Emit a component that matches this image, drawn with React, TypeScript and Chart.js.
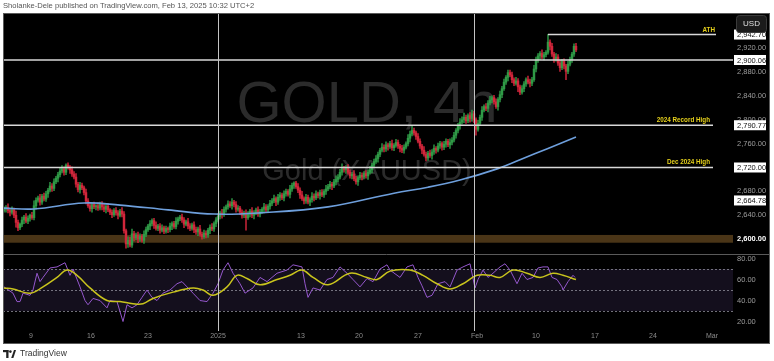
import React, { useEffect, useRef } from 'react';
import { Chart, registerables } from 'chart.js';

Chart.register(...registerables);

const FONT = '"Liberation Sans", Arial, sans-serif';

// ---- price (4h candles), bar index 0..286 ----
const firstOpen = 2648;
const closes = [
  2650, 2653, 2648, 2645, 2649, 2640, 2628, 2619, 2625, 2632, 2637, 2630, 2635, 2640, 2636, 2656, 2665,
  2669, 2662, 2672, 2667, 2676, 2682, 2689, 2685, 2696, 2702, 2708, 2714, 2718, 2712, 2724, 2720, 2716, 2709,
  2704, 2692, 2683, 2690, 2686, 2678, 2664, 2656, 2651, 2658, 2654, 2656, 2652, 2659, 2654, 2650, 2655,
  2649, 2645, 2641, 2648, 2644, 2640, 2647, 2642, 2614, 2592, 2598, 2590, 2609, 2602, 2607, 2600, 2605, 2598, 2608,
  2616, 2622, 2626, 2631, 2623, 2618, 2622, 2615, 2619, 2613, 2618, 2616, 2622, 2626, 2621, 2630, 2634, 2637, 2632,
  2625, 2629, 2622, 2618, 2624, 2616, 2612, 2617, 2608, 2604, 2610, 2607, 2615, 2620, 2617, 2626, 2632,
  2638, 2644, 2641, 2650, 2654, 2659, 2656, 2662, 2658, 2650, 2652, 2645, 2640, 2644, 2636,
  2642, 2647, 2640, 2644, 2649, 2642, 2646, 2650, 2654, 2649, 2655, 2660,
  2664, 2668, 2662, 2670, 2674, 2669, 2676, 2680, 2675, 2684, 2690, 2694,
  2688, 2682, 2674, 2668, 2664, 2670, 2662, 2666, 2672, 2669, 2676, 2673, 2678, 2674, 2680, 2684,
  2688, 2692, 2689, 2696, 2700, 2704, 2712, 2718, 2716, 2720, 2712, 2706, 2709, 2701, 2696, 2703, 2707,
  2704, 2710, 2706, 2712, 2716, 2724, 2730, 2735, 2742, 2749,
  2754, 2751, 2758, 2755, 2760, 2753, 2757, 2762, 2756, 2752, 2749, 2754, 2760,
  2769, 2776, 2782, 2778, 2772, 2764, 2756, 2749, 2742, 2736, 2744, 2740,
  2746, 2752, 2749, 2756, 2760, 2754, 2759, 2764, 2758, 2762, 2766, 2774, 2782, 2790, 2796,
  2800, 2804, 2798, 2807, 2802, 2810, 2800, 2784, 2794, 2804, 2816, 2822, 2819, 2828, 2833, 2837,
  2830, 2822, 2834, 2842, 2852, 2863, 2871, 2879, 2875, 2867, 2861, 2865, 2855, 2846, 2852,
  2860, 2867, 2863, 2861, 2867, 2885, 2900, 2907, 2911, 2905, 2909, 2913, 2930,
  2923, 2910, 2901, 2905, 2895, 2887, 2898, 2890, 2881, 2893, 2901, 2910, 2923, 2917,
];
const wickUp = [
  4, 3, 6, 2, 5, 3, 7, 4, 2, 5, 3, 6, 4, 2, 5, 8, 4, 3, 6, 3,
  5, 4, 3, 6, 4, 5, 3, 4, 6, 5, 3, 2, 4, 3, 5, 4, 6, 3, 5, 4,
  3, 6, 4, 5, 3, 4, 2, 5, 3, 4, 6, 3, 5, 2, 4, 3, 5, 4, 3, 6,
  4, 3, 6, 5, 8, 4, 3, 5, 4, 3, 6, 4, 3, 5, 3, 4, 6, 3, 4, 5,
  3, 4, 2, 5, 3, 4, 6, 3, 3, 5, 4, 3, 6, 4, 3, 5, 4, 3, 6, 4,
  5, 4, 3, 4, 6, 3, 4, 5, 3, 6, 4, 3, 5, 4, 6, 3, 5, 4, 3, 4,
  3, 5, 4, 3, 6, 4, 3, 5, 4, 3, 6, 4, 3, 5, 4, 6, 3, 5, 4, 3,
  5, 4, 3, 6, 4, 2, 3, 5, 4, 6, 3, 5, 4, 3, 6, 4, 5, 3, 4, 5,
  3, 6, 4, 5, 3, 4, 6, 4, 5, 8, 4, 3, 5, 4, 3, 6, 4, 3, 5, 4,
  3, 5, 4, 6, 3, 4, 5, 4, 3, 6, 4, 5, 3, 4, 6, 3, 5, 4, 3, 5,
  4, 3, 6, 5, 8, 4, 3, 5, 4, 3, 6, 4, 3, 5, 4, 6, 3, 5, 4, 3,
  5, 4, 3, 6, 4, 5, 3, 4, 6, 5, 7, 4, 3, 5, 6, 4, 3, 5, 4, 6,
  3, 5, 4, 6, 3, 4, 5, 3, 6, 4, 5, 3, 4, 4, 5, 3, 6, 4, 3, 5,
  4, 3, 6, 5, 4, 6, 5, 4, 3, 6, 4, 3, 13, 4, 5, 3, 6, 4, 5, 3,
  4, 3, 5, 4, 3, 4, 5,
];
const wickDn = [
  3, 5, 4, 6, 3, 4, 8, 5, 3, 4, 6, 3, 4, 5, 3, 4, 6, 3, 5, 4,
  3, 4, 6, 3, 5, 4, 3, 6, 4, 3, 5, 4, 3, 6, 4, 3, 5, 4, 6, 3,
  4, 5, 3, 4, 6, 3, 5, 4, 3, 5, 4, 6, 3, 4, 5, 3, 4, 6, 3, 5,
  4, 7, 6, 3, 4, 5, 3, 6, 4, 3, 5, 4, 3, 6, 4, 5, 3, 4, 5, 3,
  4, 3, 5, 4, 6, 3, 4, 5, 3, 4, 6, 3, 5, 4, 3, 5, 4, 6, 3, 4,
  3, 5, 4, 6, 3, 4, 5, 3, 4, 6, 3, 5, 4, 3, 6, 4, 5, 3, 4, 5,
  4, 21, 3, 5, 4, 6, 3, 4, 5, 3, 6, 4, 3, 5, 4, 3, 6, 4, 5, 3,
  5, 4, 3, 6, 4, 5, 3, 4, 6, 3, 5, 4, 3, 6, 4, 5, 3, 4, 6, 3,
  4, 5, 3, 4, 6, 3, 5, 4, 3, 5, 4, 6, 3, 4, 5, 3, 4, 6, 3, 5,
  3, 4, 6, 3, 5, 4, 3, 6, 4, 3, 5, 4, 6, 3, 4, 5, 3, 4, 6, 4,
  5, 3, 4, 6, 3, 4, 5, 3, 4, 6, 3, 5, 4, 3, 6, 4, 5, 3, 4, 5,
  4, 5, 3, 6, 4, 3, 5, 4, 6, 3, 5, 4, 3, 6, 4, 5, 10, 3, 4, 5,
  3, 4, 6, 3, 5, 4, 3, 6, 4, 5, 3, 4, 6, 3, 5, 4, 3, 8, 4, 3,
  5, 4, 3, 6, 4, 3, 5, 4, 6, 3, 5, 4, 3, 6, 4, 5, 3, 4, 6, 3,
  5, 14, 4, 3, 5, 4, 3,
];

// ---- moving average (blue) ----
const maIdx = [0, 15, 40, 58, 82, 105, 128, 162, 195, 212, 228, 245, 258, 272, 286];
const maVal = [2652, 2650.5, 2660.5, 2657, 2649, 2642, 2644, 2654, 2677, 2687, 2699, 2716, 2733, 2752, 2771];

// ---- RSI (purple) and its MA (yellow) ----
const rsiIdx = [0, 4.5, 6.5, 8, 9.5, 13, 14.5, 16.5, 18, 19.5, 23, 26.5, 30.5, 33, 34.5, 38, 40.5, 42, 44.5, 48,
  51.5, 53, 56.5, 59.5, 61.5, 64, 66.5, 69, 71.5, 74, 76.5, 79.5, 83, 86.5, 89, 91.5, 94.5, 98, 101.5, 104.5,
  107, 109.5, 112, 114.5, 118, 120.5, 124.5, 128, 131.5, 136.5, 141.5, 144.5, 149, 150.5, 152, 154.5, 158, 161.5,
  164.5, 168, 171.5, 174.5, 178, 181.5, 184.5, 188, 191.5, 193, 198, 201.5, 204.5, 207, 209, 211.5, 214, 217,
  220.5, 223, 226.5, 229.5, 233, 235.5, 237, 239.5, 242, 244.5, 248, 250.5, 253, 256.5, 259, 261.5, 264.5, 267,
  269.5, 272, 274, 276.5, 279, 279.5, 282, 284.5, 285.5];
const rsiVal = [53, 47, 39, 39, 47, 45, 50, 66, 58, 62, 71, 72, 76, 64, 70, 53, 40, 36, 42, 40,
  33, 40, 39, 20, 36, 33, 36, 43, 50, 43, 40, 47, 50, 56, 58, 53, 47, 40, 39, 47,
  56, 69, 76, 66, 56, 47, 52, 62, 58, 66, 69, 74, 72, 56, 43, 52, 50, 60,
  62, 72, 66, 60, 53, 61, 58, 70, 74, 69, 62, 72, 74, 62, 54, 43, 45, 56,
  58, 53, 69, 72, 75, 52, 60, 69, 62, 66, 72, 75, 69, 56, 66, 60, 62, 71,
  72, 72, 62, 60, 53, 50, 58, 64, 62];
const rsiMaIdx = [0, 4.5, 13, 19.5, 26.5, 31.5, 36.5, 43, 51.5, 58, 64.5, 69.5, 74.5, 84.5, 94.5, 99.5, 104.5,
  111.5, 116.5, 121.5, 128, 136.5, 143, 149, 154.5, 162, 173, 181.5, 186.5, 193, 203, 209.5, 216.5, 223, 229.5,
  236.5, 243, 248, 254.5, 261.5, 268, 274.5, 279.5, 286];
const rsiMaVal = [52, 51, 47, 53, 62, 69, 64, 52, 40, 39, 37, 37, 42, 48, 52, 50, 45, 53, 64, 61,
  55, 60, 64, 69, 62, 55, 66, 62, 60, 68, 69, 64, 56, 51, 56, 64, 64, 62, 69, 66, 62, 66, 64, 60];

// ---- time axis ----
const timeTickIdx = [13.5, 43.5, 72, 107, 148.5, 177.5, 207, 236.5, 266, 295.5, 324.5, 354];
const timeTickLabels = ['9', '16', '23', '2025', '13', '20', '27', 'Feb', '10', '17', '24', 'Mar'];

// ---- levels / drawings ----
const athLevel = 2942.7;
const lastLevel = 2900.06;
const recordHigh = 2790.77;
const decHigh = 2720.0;
const maLabelLevel = 2664.78;
const supportBand = [2594, 2607];
const supportLabel = 2600;
const verticalIdx = [107, 235];
const athStartIdx = 272;
const athEndIdx = 356;
const levelEndIdx = 354.5;

const UP = '#2f9a46';
const DOWN = '#d2263b';

const fmt = (v: number) =>
  v.toLocaleString('en-US', { minimumFractionDigits: 2, maximumFractionDigits: 2 });

export default function App() {
  const ref = useRef<HTMLCanvasElement>(null);

  useEffect(() => {
    const canvas = ref.current;
    if (!canvas) return;
    const opens = closes.map((c, i) => (i === 0 ? firstOpen : closes[i - 1]));
    const bodies = closes.map((c, i) => ({ x: i, y: [opens[i], c] }));
    const wicks = closes.map((c, i) => ({
      x: i,
      y: [Math.min(opens[i], c) - wickDn[i], Math.max(opens[i], c) + wickUp[i]],
    }));
    const cols = closes.map((c, i) => (c >= opens[i] ? UP : DOWN));

    const annot = {
      id: 'annot',
      beforeDraw(chart: any) {
        const { ctx } = chart;
        ctx.save();
        ctx.fillStyle = '#000';
        ctx.fillRect(3, 13, 767, 331);
        ctx.restore();
      },
      beforeDatasetsDraw(chart: any) {
        const { ctx, chartArea: a, scales } = chart;
        const y = scales.y;
        const yr = scales.yr;
        ctx.save();
        const b1 = y.getPixelForValue(supportBand[1]);
        const b2 = y.getPixelForValue(supportBand[0]);
        ctx.fillStyle = '#4a3517';
        ctx.fillRect(a.left, b1, a.right - a.left, b2 - b1);

        const r70 = yr.getPixelForValue(70);
        const r30 = yr.getPixelForValue(30);
        ctx.fillStyle = '#140f1d';
        ctx.fillRect(a.left, r70, a.right - a.left, r30 - r70);
        ctx.strokeStyle = 'rgba(150,150,160,0.75)';
        ctx.lineWidth = 1;
        ctx.setLineDash([2, 2]);
        for (const v of [70, 50, 30]) {
          const py = Math.round(yr.getPixelForValue(v)) + 0.5;
          ctx.beginPath();
          ctx.moveTo(a.left, py);
          ctx.lineTo(a.right, py);
          ctx.stroke();
        }
        ctx.setLineDash([]);

        ctx.fillStyle = '#2b2b2b';
        ctx.textAlign = 'center';
        ctx.textBaseline = 'alphabetic';
        ctx.font = `58px ${FONT}`;
        ctx.fillText('GOLD, 4h', 367, 122);
        ctx.font = `29px ${FONT}`;
        ctx.fillText('Gold (XAUUSD)', 367, 180);
        ctx.restore();
      },
      afterDatasetsDraw(chart: any) {
        const { ctx, chartArea: a, scales } = chart;
        const x = scales.x;
        const y = scales.y;
        const yr = scales.yr;
        ctx.save();
        const hline = (v: number, x1: number, x2: number) => {
          const py = y.getPixelForValue(v);
          ctx.beginPath();
          ctx.moveTo(x1, py);
          ctx.lineTo(x2, py);
          ctx.stroke();
        };
        ctx.strokeStyle = '#d8d8d8';
        ctx.lineWidth = 1.5;
        const lvEnd = x.getPixelForValue(levelEndIdx);
        hline(lastLevel, a.left, a.right);
        hline(recordHigh, a.left, lvEnd);
        hline(decHigh, a.left, lvEnd);
        const athEnd = x.getPixelForValue(athEndIdx);
        hline(athLevel, x.getPixelForValue(athStartIdx), athEnd);

        ctx.strokeStyle = '#c4c4c4';
        ctx.lineWidth = 1;
        for (const idx of verticalIdx) {
          const px = Math.round(x.getPixelForValue(idx)) + 0.5;
          ctx.beginPath();
          ctx.moveTo(px, a.top);
          ctx.lineTo(px, a.bottom);
          ctx.stroke();
        }

        ctx.fillStyle = '#e6d11c';
        ctx.font = `bold 6.3px ${FONT}`;
        ctx.textAlign = 'right';
        ctx.textBaseline = 'alphabetic';
        ctx.fillText('ATH', athEnd - 1, y.getPixelForValue(athLevel) - 3);
        ctx.fillText('2024 Record High', lvEnd - 3, y.getPixelForValue(recordHigh) - 3);
        ctx.fillText('Dec 2024 High', lvEnd - 3, y.getPixelForValue(decHigh) - 3);

        // frame and pane separator
        ctx.strokeStyle = '#5a5a5a';
        ctx.lineWidth = 1;
        ctx.strokeRect(3.5, 13.5, 766, 330);
        const sep = Math.round(yr.top) + 0.5;
        ctx.beginPath();
        ctx.moveTo(3, sep);
        ctx.lineTo(770, sep);
        ctx.stroke();

        // price labels
        const boxes: [number, string][] = [
          [athLevel, fmt(athLevel)],
          [lastLevel, fmt(lastLevel)],
          [recordHigh, fmt(recordHigh)],
          [decHigh, fmt(decHigh)],
          [maLabelLevel, fmt(maLabelLevel)],
        ];
        ctx.font = `7.5px ${FONT}`;
        ctx.textAlign = 'left';
        ctx.textBaseline = 'middle';
        for (const [v, t] of boxes) {
          const py = y.getPixelForValue(v);
          ctx.fillStyle = '#ffffff';
          ctx.fillRect(734, py - 5, 32, 10);
          ctx.fillStyle = '#111';
          ctx.fillText(t, 737, py + 0.5);
        }

        // USD button
        ctx.fillStyle = '#1b1b1b';
        ctx.strokeStyle = '#3a3a3a';
        ctx.beginPath();
        (ctx as any).roundRect(736.5, 15.5, 30, 17, 3);
        ctx.fill();
        ctx.stroke();
        ctx.fillStyle = '#e0e0e0';
        ctx.font = `8px ${FONT}`;
        ctx.textAlign = 'center';
        ctx.fillText('USD', 751.5, 23.5);
        ctx.restore();
      },
    };

    const chart = new Chart(canvas, {
      type: 'bar',
      data: {
        datasets: [
          {
            type: 'line',
            data: maIdx.map((v, i) => ({ x: v, y: maVal[i] })),
            borderColor: '#6e9fdc',
            borderWidth: 1.6,
            pointRadius: 0,
            tension: 0.4,
            yAxisID: 'y',
            order: 0,
          } as any,
          {
            type: 'bar',
            data: bodies,
            backgroundColor: cols,
            barThickness: 1.8,
            grouped: false,
            yAxisID: 'y',
            order: 1,
          } as any,
          {
            type: 'bar',
            data: wicks,
            backgroundColor: cols,
            barThickness: 0.8,
            grouped: false,
            yAxisID: 'y',
            order: 2,
          } as any,
          {
            type: 'line',
            data: rsiMaIdx.map((v, i) => ({ x: v, y: rsiMaVal[i] })),
            borderColor: '#c9c41d',
            borderWidth: 1.5,
            pointRadius: 0,
            tension: 0.4,
            yAxisID: 'yr',
            order: 0,
          } as any,
          {
            type: 'line',
            data: rsiIdx.map((v, i) => ({ x: v, y: rsiVal[i] })),
            borderColor: '#9457cc',
            borderWidth: 1,
            pointRadius: 0,
            tension: 0,
            yAxisID: 'yr',
            order: 1,
          } as any,
        ],
      },
      options: {
        responsive: false,
        animation: false,
        events: [],
        layout: { padding: { left: 3, top: 14, right: 4, bottom: 17 } },
        plugins: { legend: { display: false }, tooltip: { enabled: false } },
        scales: {
          x: {
            type: 'linear',
            min: -0.5,
            max: 364.5,
            offset: false,
            grid: { display: false, drawTicks: false, offset: false },
            border: { display: false },
            afterBuildTicks: (s: any) => {
              s.ticks = timeTickIdx.map((v) => ({ value: v }));
            },
            afterFit: (s: any) => {
              s.height = 13;
            },
            ticks: {
              autoSkip: false,
              maxRotation: 0,
              padding: 1,
              color: '#8c8c8c',
              font: { family: FONT, size: 7 },
              callback: (_v: any, i: number) => timeTickLabels[i],
            },
          },
          y: {
            type: 'linear',
            position: 'right',
            stack: 'panes',
            stackWeight: 240,
            min: 2575.1,
            max: 2977.1,
            grid: { display: false, drawTicks: false },
            border: { display: false },
            afterFit: (s: any) => {
              s.width = 37;
            },
            ticks: {
              stepSize: 40,
              includeBounds: false,
              autoSkip: false,
              padding: 4,
              color: (c: any) => (c.tick && c.tick.value === supportLabel ? '#ffffff' : '#9c9c9c'),
              font: (c: any) => ({
                family: FONT,
                size: 7.5,
                weight: c.tick && c.tick.value === supportLabel ? 'bold' : 'normal',
              }),
              callback: (v: any) => fmt(Number(v)),
            },
          },
          yr: {
            type: 'linear',
            position: 'right',
            stack: 'panes',
            stackWeight: 77,
            min: 11,
            max: 84.3,
            grid: { display: false, drawTicks: false },
            border: { display: false },
            afterFit: (s: any) => {
              s.width = 37;
            },
            ticks: {
              stepSize: 20,
              includeBounds: false,
              autoSkip: false,
              padding: 4,
              color: '#9c9c9c',
              font: { family: FONT, size: 7.5 },
              callback: (v: any) => fmt(Number(v)),
            },
          },
        },
      } as any,
      plugins: [annot as any],
    });
    return () => chart.destroy();
  }, []);

  return (
    <div
      style={{
        position: 'fixed',
        left: 0,
        top: 0,
        width: 774,
        height: 361,
        background: '#ffffff',
        overflow: 'hidden',
      }}
    >
      <canvas ref={ref} width={774} height={361} style={{ position: 'absolute', left: 0, top: 0 }} />
      <div
        style={{
          position: 'absolute',
          left: 3,
          top: 0,
          fontFamily: FONT,
          fontSize: 7.6,
          lineHeight: '11px',
          color: '#555',
          whiteSpace: 'nowrap',
        }}
      >
        Sholanke-Dele published on TradingView.com, Feb 13, 2025 10:32 UTC+2
      </div>
      <div
        style={{
          position: 'absolute',
          left: 3,
          top: 348,
          display: 'flex',
          alignItems: 'center',
          gap: 4,
          fontFamily: FONT,
          fontSize: 8.5,
          lineHeight: '11px',
          color: '#333',
        }}
      >
        <svg width="13" height="8" viewBox="0 0 13 8">
          <rect x="0" y="0" width="5.5" height="2.2" fill="#222" />
          <rect x="3.2" y="0" width="2.3" height="8" fill="#222" />
          <circle cx="7.4" cy="1.6" r="1.3" fill="#222" />
          <polygon points="8.2,8 11,0 13,0 10.4,8" fill="#222" />
        </svg>
        <span>TradingView</span>
      </div>
    </div>
  );
}
